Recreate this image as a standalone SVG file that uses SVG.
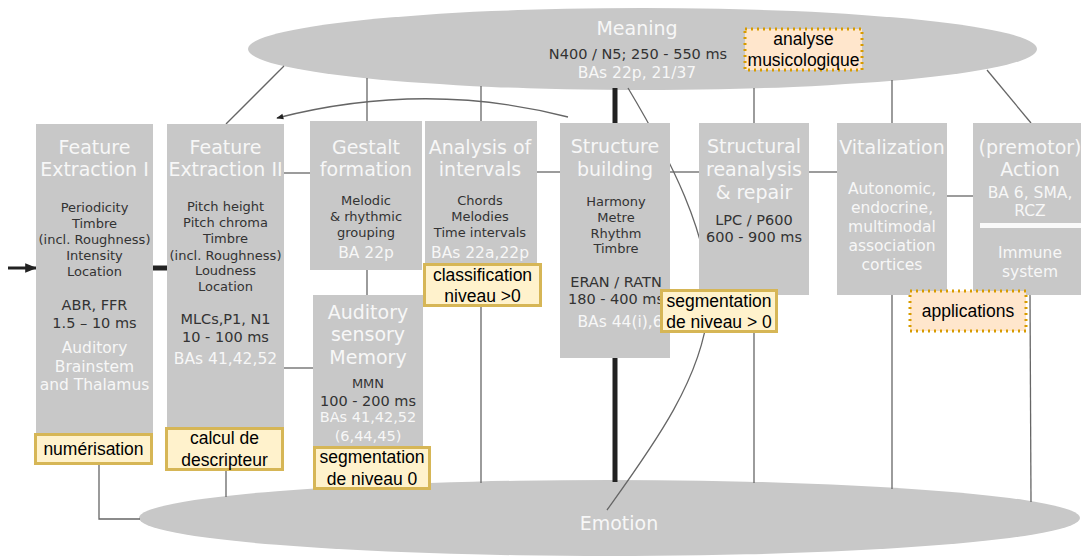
<svg xmlns="http://www.w3.org/2000/svg" width="1081" height="558" viewBox="0 0 1081 558">
<style>
.box{fill:#c8c8c8}
.ell{fill:#c8c8c8}
.t{font-family:"DejaVu Sans",sans-serif;text-anchor:middle}
.ti{font-size:19px;fill:#f7f7f7}
.b{font-size:13px;fill:#333}
.n{font-size:14.5px;fill:#333}
.w{font-size:15.5px;fill:#f7f7f7}
.ln{stroke:#666;stroke-width:1.3;fill:none}
.thk{stroke:#222;stroke-width:5;fill:none}
.lab{fill:#fff2cc;stroke:#d6b656;stroke-width:3}
.lab2{fill:#ffe6cc;stroke:#d79b00;stroke-width:3;stroke-dasharray:2 4}
.lt{font-family:"Liberation Sans",Arial,sans-serif;font-size:17.5px;fill:#000;text-anchor:middle}
</style>
<defs>
<marker id="ah" viewBox="0 0 10 10" refX="9" refY="5" markerWidth="8" markerHeight="7" orient="auto" markerUnits="userSpaceOnUse">
<path d="M0,1 L10,5 L0,9 z" fill="#222"/>
</marker>
<marker id="ah2" viewBox="0 0 10 10" refX="9" refY="5" markerWidth="12" markerHeight="12" orient="auto" markerUnits="userSpaceOnUse">
<path d="M0,1 L10,5 L0,9 z" fill="#222"/>
</marker>
</defs>

<g id="meaning">
<ellipse class="ell" cx="642.5" cy="49" rx="394.5" ry="41"/>
<text class="t ti" x="637" y="35">Meaning</text>
<text class="t n" x="638" y="59">N400 / N5; 250 - 550 ms</text>
<text class="t w" x="637" y="77.5">BAs 22p, 21/37</text>
</g>

<g id="emotion">
<ellipse class="ell" cx="609.5" cy="518" rx="470.5" ry="38"/>
<text class="t ti" x="619" y="529.5">Emotion</text>
</g>

<g id="connectors">
<line x1="8" y1="268" x2="36" y2="268" stroke="#222" stroke-width="3" marker-end="url(#ah2)"/>
<line x1="153" y1="268" x2="167" y2="268" stroke="#222" stroke-width="5"/>
<line class="ln" x1="284" y1="66" x2="226" y2="124"/>
<line class="ln" x1="367" y1="78" x2="367" y2="121"/>
<line class="ln" x1="481" y1="86" x2="481" y2="121"/>
<path class="ln" d="M568,117 Q425,80 277,118" stroke="#333" marker-end="url(#ah)"/>
<line class="ln" x1="284" y1="173" x2="310" y2="173"/>
<line class="thk" x1="615" y1="88" x2="615" y2="123"/>
<line class="thk" x1="615" y1="358" x2="615" y2="482"/>
<path class="ln" d="M628,88 C665,150 715,240 708,310 C702,380 650,450 607,510" stroke="#555"/>
<line class="ln" x1="537" y1="172" x2="560" y2="172"/>
<line class="ln" x1="670" y1="172" x2="699" y2="172"/>
<line class="ln" x1="754" y1="88" x2="754" y2="123"/>
<line class="ln" x1="754" y1="295" x2="754" y2="483"/>
<line class="ln" x1="809" y1="172" x2="837" y2="172"/>
<line class="ln" x1="892" y1="80" x2="892" y2="123"/>
<line class="ln" x1="892" y1="295" x2="892" y2="489"/>
<line class="ln" x1="947" y1="196" x2="973" y2="196"/>
<line class="ln" x1="987" y1="70" x2="1031" y2="123"/>
<line class="ln" x1="1030" y1="295" x2="1031" y2="502"/>
<line class="ln" x1="367" y1="270" x2="367" y2="295"/>
<line class="ln" x1="481" y1="263" x2="481" y2="483"/>
<line class="ln" x1="284" y1="368" x2="313" y2="368"/>
<polyline class="ln" points="99,464 99,519 140,519"/>
<line class="ln" x1="226" y1="471" x2="226" y2="497"/>
</g>

<g id="feature1">
<rect class="box" x="36" y="124" width="117" height="324"/>
<text class="t ti" x="94.5" y="153.5">Feature</text>
<text class="t ti" x="94.5" y="176">Extraction I</text>
<text class="t b" x="94.5" y="212">Periodicity</text>
<text class="t b" x="94.5" y="228">Timbre</text>
<text class="t b" x="94.5" y="244">(incl. Roughness)</text>
<text class="t b" x="94.5" y="260">Intensity</text>
<text class="t b" x="94.5" y="276">Location</text>
<text class="t n" x="94.5" y="310">ABR, FFR</text>
<text class="t n" x="94.5" y="328">1.5 – 10 ms</text>
<text class="t w" x="94.5" y="352.5">Auditory</text>
<text class="t w" x="94.5" y="371.5">Brainstem</text>
<text class="t w" x="94.5" y="390">and Thalamus</text>
</g>

<g id="feature2">
<rect class="box" x="167" y="124" width="117" height="316"/>
<text class="t ti" x="225.5" y="153.5">Feature</text>
<text class="t ti" x="225.5" y="176">Extraction II</text>
<text class="t b" x="225.5" y="211">Pitch height</text>
<text class="t b" x="225.5" y="227">Pitch chroma</text>
<text class="t b" x="225.5" y="243">Timbre</text>
<text class="t b" x="225.5" y="259.5">(incl. Roughness)</text>
<text class="t b" x="225.5" y="275">Loudness</text>
<text class="t b" x="225.5" y="291">Location</text>
<text class="t n" x="225.5" y="324">MLCs,P1, N1</text>
<text class="t n" x="225.5" y="342">10 - 100 ms</text>
<text class="t w" x="225.5" y="363.5">BAs 41,42,52</text>
</g>

<g id="gestalt">
<rect class="box" x="310" y="121" width="112" height="149"/>
<text class="t ti" x="366" y="153.5">Gestalt</text>
<text class="t ti" x="366" y="176">formation</text>
<text class="t b" x="366" y="205">Melodic</text>
<text class="t b" x="366" y="221">&amp; rhythmic</text>
<text class="t b" x="366" y="237">grouping</text>
<text class="t w" x="366" y="257.5">BA 22p</text>
</g>

<g id="intervals">
<rect class="box" x="425" y="121" width="112" height="142"/>
<text class="t ti" x="480" y="153.5">Analysis of</text>
<text class="t ti" x="480" y="176">intervals</text>
<text class="t b" x="480" y="205">Chords</text>
<text class="t b" x="480" y="221">Melodies</text>
<text class="t b" x="480" y="237">Time intervals</text>
<text class="t w" x="480" y="257.5">BAs 22a,22p</text>
</g>

<g id="memory">
<rect class="box" x="313" y="295" width="110" height="158"/>
<text class="t ti" x="368" y="318.5">Auditory</text>
<text class="t ti" x="368" y="341">sensory</text>
<text class="t ti" x="368" y="363.5">Memory</text>
<text class="t b" x="368" y="388">MMN</text>
<text class="t n" x="368" y="406">100 - 200 ms</text>
<text class="t w" x="368" y="422" style="font-size:14.5px">BAs 41,42,52</text>
<text class="t w" x="368" y="441" style="font-size:14.5px">(6,44,45)</text>
</g>

<g id="structure">
<rect class="box" x="560" y="123" width="110" height="235"/>
<text class="t ti" x="615" y="152.5">Structure</text>
<text class="t ti" x="615" y="175.5">building</text>
<text class="t b" x="616" y="206">Harmony</text>
<text class="t b" x="616" y="222">Metre</text>
<text class="t b" x="616" y="237.5">Rhythm</text>
<text class="t b" x="616" y="253">Timbre</text>
<text class="t n" x="616" y="287">ERAN / RATN</text>
<text class="t n" x="616" y="304">180 - 400 ms</text>
<text class="t w" x="620" y="326.5">BAs 44(i),6</text>
</g>

<g id="reanalysis">
<rect class="box" x="699" y="123" width="110" height="172"/>
<text class="t ti" x="754" y="152.5">Structural</text>
<text class="t ti" x="754" y="175.5">reanalysis</text>
<text class="t ti" x="754" y="198.5">&amp; repair</text>
<text class="t n" x="754" y="225">LPC / P600</text>
<text class="t n" x="754" y="242">600 - 900 ms</text>
</g>

<g id="vitalization">
<rect class="box" x="837" y="123" width="110" height="172"/>
<text class="t ti" x="892" y="153.5">Vitalization</text>
<text class="t w" x="892" y="193.5">Autonomic,</text>
<text class="t w" x="892" y="212.5">endocrine,</text>
<text class="t w" x="892" y="231.5">multimodal</text>
<text class="t w" x="892" y="250.5">association</text>
<text class="t w" x="892" y="269.5">cortices</text>
</g>

<g id="action">
<rect class="box" x="973" y="123" width="120" height="172"/>
<text class="t ti" x="1030" y="153.5">(premotor)</text>
<text class="t ti" x="1030" y="176">Action</text>
<text class="t w" x="1030" y="197.5">BA 6, SMA,</text>
<text class="t w" x="1030" y="215.5">RCZ</text>
<rect x="980" y="223" width="110" height="5" fill="#fafafa"/>
<text class="t w" x="1030" y="257.5">Immune</text>
<text class="t w" x="1030" y="276.5">system</text>
</g>

<g id="label-numerisation">
<rect class="lab" x="35.5" y="434.5" width="116" height="29"/>
<text class="lt" x="93.5" y="455">numérisation</text>
</g>
<g id="label-calcul">
<rect class="lab" x="166.5" y="428.5" width="116" height="41"/>
<text class="lt" x="224.5" y="444">calcul de</text>
<text class="lt" x="224.5" y="466">descripteur</text>
</g>
<g id="label-seg0">
<rect class="lab" x="314.5" y="447.5" width="115" height="41"/>
<text class="lt" x="372" y="463">segmentation</text>
<text class="lt" x="372" y="485">de niveau 0</text>
</g>
<g id="label-classification">
<rect class="lab" x="424.5" y="264.5" width="116" height="41"/>
<text class="lt" x="482.5" y="281">classification</text>
<text class="lt" x="482.5" y="302">niveau &gt;0</text>
</g>
<g id="label-seg1">
<rect class="lab" x="661.5" y="290.5" width="115" height="41"/>
<text class="lt" x="719" y="307">segmentation</text>
<text class="lt" x="719" y="328">de niveau &gt; 0</text>
</g>
<g id="label-analyse">
<rect class="lab2" x="745" y="29" width="117" height="41"/>
<text class="lt" x="803.5" y="45">analyse</text>
<text class="lt" x="803.5" y="66">musicologique</text>
</g>
<g id="label-applications">
<rect class="lab2" x="910" y="291" width="116" height="40"/>
<text class="lt" x="968" y="317">applications</text>
</g>
</svg>
